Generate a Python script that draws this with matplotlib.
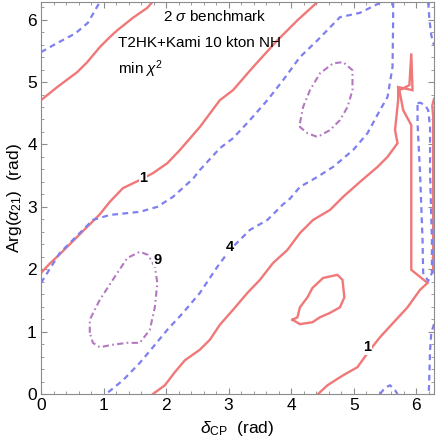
import numpy as np
import matplotlib.pyplot as plt

plt.rcParams['font.family'] = ['Liberation Sans', 'DejaVu Sans']
plt.rcParams['mathtext.fontset'] = 'custom'
plt.rcParams['mathtext.rm'] = 'Liberation Sans'
plt.rcParams['mathtext.it'] = 'Liberation Sans:italic'

TWO_PI = 2 * np.pi

# chi^2 = 1 contours (delta_CP, Arg(alpha_21))
red_top_left = [(0, 4.71), (0.26, 4.92), (0.42, 5.04), (0.58, 5.16), (0.74, 5.32),
                (0.94, 5.56), (1.10, 5.72), (1.22, 5.83), (1.47, 6.03), (1.70, 6.19),
                (1.78, TWO_PI)]
red_middle = [(0, 1.94), (0.14, 2.09), (0.30, 2.24), (0.46, 2.40), (0.62, 2.56),
              (0.78, 2.72), (0.94, 2.88), (1.10, 3.08), (1.31, 3.30), (1.58, 3.43),
              (1.79, 3.54), (2.02, 3.70), (2.22, 3.91), (2.54, 4.28), (2.86, 4.71),
              (3.07, 4.87), (3.39, 5.24), (3.78, 5.67), (4.10, 5.99), (4.42, TWO_PI)]
red_valley = [(1.79, 0), (1.98, 0.14), (2.14, 0.35), (2.30, 0.54), (2.54, 0.71),
              (2.70, 0.87), (2.86, 1.11), (3.07, 1.35), (3.30, 1.62), (3.50, 1.83),
              (3.71, 2.10), (3.94, 2.31), (4.14, 2.58), (4.35, 2.79), (4.62, 2.95),
              (4.83, 3.16), (5.10, 3.40), (5.38, 3.64), (5.54, 3.80), (5.70, 4.02),
              (5.66, 4.23), (5.71, 4.71), (5.71, 4.92), (5.94, 4.87), (5.92, 5.46),
              (5.89, 4.95), (5.73, 4.87), (5.79, 4.55), (5.92, 4.31), (5.92, 1.99),
              (6.18, 1.78), (6.06, 1.67), (5.86, 1.39), (5.63, 1.14), (5.42, 0.91),
              (5.23, 0.67), (5.06, 0.43), (4.83, 0.30), (4.58, 0.14), (4.43, 0)]
red_edge = [(TWO_PI, 4.73), (6.255, 4.62), (6.27, 4.45), (6.27, 2.0), (TWO_PI, 1.95)]
red_island = [(4.02, 1.19), (4.10, 1.23), (4.14, 1.39), (4.26, 1.55), (4.34, 1.70),
              (4.51, 1.86), (4.74, 1.91), (4.82, 1.83), (4.85, 1.55), (4.78, 1.39),
              (4.62, 1.30), (4.46, 1.23), (4.34, 1.15), (4.14, 1.12), (4.02, 1.19)]

# chi^2 = 4 contours
blue_corner = [(0, 5.48), (0.25, 5.62), (0.55, 5.78), (0.75, 5.95), (0.94, TWO_PI)]
blue_upper = [(0, 1.78), (0.30, 2.26), (0.83, 2.79), (1.10, 2.87), (1.58, 2.92),
              (1.86, 3.00), (2.11, 3.16), (2.43, 3.45), (2.54, 3.59), (2.86, 3.94),
              (3.07, 4.10), (3.34, 4.39), (3.62, 4.71), (3.87, 5.03), (4.14, 5.40),
              (4.42, 5.67), (4.78, 6.04), (5.10, 6.11), (5.38, 6.25), (5.46, TWO_PI)]
blue_cap = [(5.42, 0), (5.50, 0.10), (5.58, 0.14), (5.66, 0.06), (5.70, 0)]
blue_lower = [(5.63, TWO_PI), (5.63, 6.0), (5.62, 5.24), (5.54, 4.76), (5.42, 4.55),
              (5.22, 4.18), (4.99, 3.91), (4.67, 3.64), (4.42, 3.48), (4.14, 3.32),
              (3.98, 3.13), (3.87, 3.04), (3.62, 2.79), (3.34, 2.63), (3.02, 2.31),
              (2.82, 2.04), (2.54, 1.62), (2.27, 1.30), (2.02, 1.03), (1.79, 0.75),
              (1.58, 0.50), (1.31, 0.22), (1.04, 0)]
blue_right_low = [(TWO_PI, 1.12), (6.24, 0.98), (6.22, 0.70), (6.21, 0.35), (6.20, 0)]
blue_right_top = [(6.19, TWO_PI), (6.21, 6.0), (6.24, 5.75), (TWO_PI, 5.59)]
blue_strip = [(6.02, 4.66), (6.06, 4.67), (6.14, 4.63), (6.19, 4.55), (6.22, 4.28),
              (6.22, 3.54), (6.25, 2.47), (6.25, 1.94), (6.19, 1.81), (6.11, 1.94),
              (6.10, 2.47), (6.06, 3.54), (6.02, 4.34), (6.02, 4.66)]

# chi^2 = 9 contours
purple_upper = [(4.14, 4.34), (4.19, 4.60), (4.30, 4.87), (4.46, 5.14), (4.67, 5.30),
                (4.83, 5.32), (4.98, 5.19), (4.98, 4.87), (4.90, 4.60), (4.78, 4.39),
                (4.62, 4.23), (4.42, 4.12), (4.26, 4.18), (4.14, 4.28), (4.14, 4.34)]
purple_lower = [(0.78, 0.98), (0.78, 1.19), (0.94, 1.51), (1.22, 1.94), (1.38, 2.18),
                (1.58, 2.28), (1.71, 2.23), (1.82, 2.04), (1.86, 1.78), (1.82, 1.39),
                (1.74, 1.03), (1.58, 0.82), (1.38, 0.82), (1.15, 0.79), (0.94, 0.75),
                (0.83, 0.82), (0.78, 0.98)]

labels = ['1', '4', '9', '1']
label_pos = [(1.63, 3.46), (3.02, 2.36), (1.86, 2.15), (5.22, 0.75)]

red = '#F07878'
blue = '#7F7FF0'
purple = '#B478C0'
frame = '#8C8C8C'

fig = plt.figure(figsize=(4.36, 4.46), dpi=100)
ax = fig.add_axes([41 / 436, 52 / 446, 393 / 436, 392 / 446])

for c in [red_top_left, red_middle, red_valley, red_edge, red_island]:
    c = np.array(c)
    ax.plot(c[:, 0], c[:, 1], color=red, lw=1.7, solid_joinstyle='miter')
for c in [blue_corner, blue_upper, blue_cap, blue_lower, blue_right_low,
          blue_right_top, blue_strip]:
    c = np.array(c)
    ax.plot(c[:, 0], c[:, 1], color=blue, lw=1.6, dashes=(2.6, 2.0))
for c in [purple_upper, purple_lower]:
    c = np.array(c)
    ax.plot(c[:, 0], c[:, 1], color=purple, lw=1.5, dashes=(3.0, 1.6, 0.8, 1.6))

for t, (x, y) in zip(labels, label_pos):
    ax.text(x, y, t, fontsize=10.5, fontweight='bold', ha='center', va='center',
            bbox=dict(facecolor='white', edgecolor='none', pad=0.2))

ax.text(0.31, 0.962, r'2 $\sigma$ benchmark', transform=ax.transAxes, fontsize=11,
        va='center')
ax.text(0.196, 0.895, 'T2HK+Kami 10 kton NH', transform=ax.transAxes, fontsize=11,
        va='center')
ax.text(0.196, 0.828, r'min $\chi^2$', transform=ax.transAxes, fontsize=11,
        va='center')

ax.set_xlim(0, TWO_PI)
ax.set_ylim(0, TWO_PI)
ax.set_xticks(range(7))
ax.set_yticks(range(7))
ax.set_xticks(np.arange(0, TWO_PI, 0.2), minor=True)
ax.set_yticks(np.arange(0, TWO_PI, 0.2), minor=True)
ax.tick_params(which='both', direction='in', top=True, right=True, color=frame,
               labelsize=12.5, pad=3)
ax.tick_params(which='major', length=4.5, width=0.8)
ax.tick_params(which='minor', length=2.5, width=0.6)
for s in ax.spines.values():
    s.set_color(frame)
    s.set_linewidth(0.8)

ax.set_xlabel(r'$\delta_{\rm CP}$  (rad)', fontsize=12.5, labelpad=4)
ax.set_ylabel(r'Arg($\alpha_{21}$)  (rad)', fontsize=12.5, labelpad=2)

fig.savefig('out.png', dpi=100)
